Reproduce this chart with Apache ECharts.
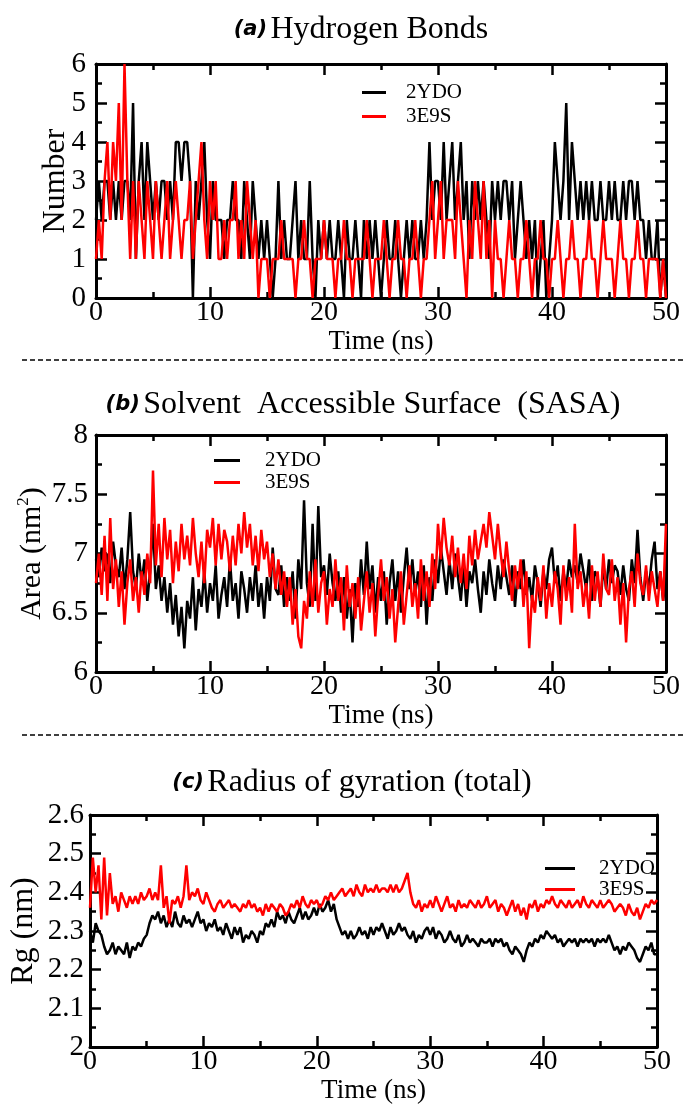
<!DOCTYPE html>
<html><head><meta charset="utf-8">
<script src="https://cdn.jsdelivr.net/npm/echarts@6/dist/echarts.min.js"></script>
<style>html,body{margin:0;padding:0;background:#fff}#c{width:683px;height:1105px}</style>
</head><body><div id="c"></div>
<script>
// ---- data (time step 0.25 ns, 0..50 ns) ----
const TIME_STEP = 0.25;
const seriesNames = ['2YDO', '3E9S'];
const panelTitles = ['Hydrogen Bonds', 'Solvent  Accessible Surface  (SASA)', 'Radius of gyration (total)'];
const panelTags = ['(a)', '(b)', '(c)'];

const hb2YDO = [
2,3,2,3, 3,2,3,2, 3,2,3,3, 2,5,1,3, 4,2,4,3,
2,3,2,3, 3,2,3,2, 4,4,3,4, 4,3,0,3, 2,3,4,2,
1,3,2,2, 2,1,2,2, 3,2,2,1, 3,2,1,3, 2,1,2,1,
2,1,0,1, 3,1,2,1, 1,2,3,1, 2,1,1,3, 1,0,2,1,
2,1,2,1, 1,2,1,0, 2,1,1,2, 1,0,2,1, 2,1,2,1,
0,1,2,1, 1,2,1,0, 1,2,1,2, 1,1,2,1, 2,4,2,3,
3,2,4,2, 3,4,2,3, 4,2,3,1, 3,2,3,2, 3,2,1,3,
2,3,2,3, 3,2,3,1, 2,3,2,1, 2,1,2,0, 1,2,0,1,
2,4,3,2, 3,5,2,4, 3,2,3,2, 3,2,3,2, 2,3,2,2,
3,2,3,2, 2,3,2,3, 3,2,3,2, 2,1,2,1, 1,2,0,1,
0];
const hb3E9S = [
1,2,1,3, 4,2,4,3, 5,2,6,3, 1,3,1,3, 2,1,3,2,
1,3,2,1, 2,3,1,2, 3,2,1,2, 2,3,1,2, 3,4,2,1,
3,2,3,1, 1,2,1,2, 2,3,1,2, 1,3,2,1, 2,0,1,1,
1,0,1,1, 1,2,1,1, 1,1,0,1, 1,2,1,1, 0,1,1,1,
2,1,1,1, 0,1,1,2, 1,1,0,1, 1,1,1,2, 1,0,1,1,
1,2,1,0, 1,1,2,1, 1,0,1,1, 2,1,0,1, 1,2,3,1,
2,3,1,2, 2,2,1,3, 2,1,0,2, 1,3,2,1, 3,1,2,0,
2,1,1,0, 1,2,1,1, 0,1,1,2, 1,0,1,1, 2,1,1,0,
1,1,2,1, 0,1,1,2, 1,1,0,1, 1,2,1,1, 0,1,2,1,
1,1,0,1, 2,1,1,0, 1,1,2,1, 1,0,1,1, 1,1,0,1,
0];

const sasa2YDO = [
6.95,6.80,7.05,6.85, 7.00,6.75,7.10,6.90, 6.80,7.05,6.70,6.95, 7.35,6.85,6.70,7.00, 6.75,6.95,6.60,6.85,
7.25,6.70,6.90,6.60, 6.80,6.50,6.75,6.40, 6.65,6.30,6.55,6.20, 6.60,6.45,6.80,6.35, 6.70,6.55,6.85,6.50,
6.75,6.60,6.90,6.45, 6.65,6.80,6.55,6.95, 6.60,6.75,6.45,6.85, 6.70,6.50,6.80,6.60, 6.90,6.55,6.75,6.45,
6.80,6.60,7.05,6.70, 6.65,6.90,6.55,6.80, 6.60,6.85,6.45,6.95, 6.70,7.45,6.75,6.55, 7.25,6.60,7.40,6.80,
6.90,6.65,7.00,6.75, 6.60,6.85,6.50,6.80, 6.45,6.70,6.25,6.75, 6.55,6.95,6.65,7.10, 6.70,6.90,6.50,6.80,
6.60,6.85,6.40,6.75, 6.95,6.60,6.85,6.50, 6.80,7.05,6.70,6.95, 6.65,6.85,6.55,6.90, 6.40,6.80,6.60,6.95,
6.75,7.05,6.85,6.65, 6.95,6.70,7.00,6.80, 6.60,6.90,6.55,6.85, 6.75,6.95,6.70,6.50, 6.85,6.65,6.95,6.75,
6.60,6.90,6.70,6.95, 6.80,6.65,6.90,6.55, 6.85,6.70,6.95,6.65, 6.80,6.60,6.90,6.75, 6.55,6.85,6.70,6.95,
7.05,6.75,6.90,6.60, 6.85,6.70,6.95,6.80, 6.90,6.75,7.00,6.85, 6.70,6.95,6.60,6.85, 6.80,6.55,6.90,6.70,
6.95,6.75,6.90,6.85, 6.65,6.90,6.70,6.60, 6.95,6.75,7.20,6.80, 6.60,6.85,6.70,6.95, 7.10,6.70,6.85,6.60,
6.80];
const sasa3E9S = [
6.75,7.00,6.65,7.15, 6.60,7.30,6.70,6.95, 6.55,6.85,6.40,6.75, 6.95,6.60,6.80,6.50, 6.85,6.65,7.00,6.75,
7.70,6.90,7.25,6.80, 7.30,6.95,7.20,6.75, 7.10,6.85,7.25,6.95, 7.15,6.90,7.30,7.00, 6.80,7.10,6.75,7.20,
7.05,7.30,6.90,7.25, 6.95,7.20,7.10,6.85, 7.15,6.90,7.25,7.00, 7.35,7.05,7.25,6.90, 7.15,6.85,7.20,6.95,
7.10,6.80,7.00,6.70, 6.95,6.65,6.85,6.55, 6.80,6.40,6.70,6.30, 6.20,6.60,6.45,6.85, 6.55,6.95,6.50,6.75,
6.85,6.40,6.70,6.55, 6.95,6.60,6.80,6.35, 6.90,6.55,6.75,6.45, 6.80,6.35,6.60,6.85, 6.50,6.75,6.30,6.65,
6.95,6.60,6.80,6.45, 6.70,6.25,6.55,6.85, 6.40,6.65,6.90,6.55, 6.75,6.45,6.95,6.60, 6.85,6.55,7.00,6.70,
7.25,6.95,7.30,7.05, 6.90,7.15,6.80,7.05, 6.75,7.00,6.70,7.15, 6.90,7.20,6.95,7.10, 7.25,7.05,7.35,7.15,
6.95,7.25,7.00,6.80, 7.10,6.85,6.60,6.90, 6.70,6.95,6.55,6.85, 6.20,6.65,6.50,6.80, 6.60,6.90,6.45,6.75,
6.55,6.85,6.70,6.40, 6.90,6.60,6.80,6.50, 7.25,6.70,6.85,6.55, 6.75,6.45,6.90,6.60, 6.85,6.55,7.00,6.70,
6.65,6.95,6.60,6.80, 6.40,6.75,6.25,6.70, 6.85,6.55,7.00,6.75, 6.65,6.90,6.60,6.85, 6.70,6.55,6.85,6.60,
7.25];

const rg2YDO = [
2.30,2.27,2.32,2.30, 2.29,2.26,2.24,2.25, 2.27,2.24,2.26,2.25, 2.24,2.27,2.23,2.26, 2.25,2.27,2.26,2.28,
2.29,2.32,2.34,2.33, 2.35,2.32,2.34,2.31, 2.33,2.31,2.35,2.32, 2.31,2.34,2.32,2.33, 2.31,2.33,2.35,2.32,
2.33,2.30,2.32,2.31, 2.33,2.30,2.31,2.29, 2.32,2.30,2.28,2.31, 2.29,2.31,2.27,2.29, 2.28,2.30,2.29,2.27,
2.30,2.29,2.32,2.31, 2.33,2.31,2.35,2.33, 2.34,2.32,2.35,2.33, 2.32,2.34,2.36,2.33, 2.35,2.33,2.34,2.36,
2.34,2.37,2.35,2.36, 2.38,2.35,2.37,2.33, 2.31,2.29,2.30,2.28, 2.30,2.28,2.29,2.31, 2.29,2.30,2.28,2.31,
2.29,2.31,2.30,2.32, 2.30,2.28,2.31,2.29, 2.30,2.32,2.30,2.31, 2.29,2.28,2.30,2.27, 2.29,2.28,2.30,2.31,
2.29,2.31,2.28,2.30, 2.29,2.27,2.28,2.30, 2.28,2.27,2.29,2.26, 2.27,2.29,2.27,2.28, 2.27,2.26,2.28,2.27,
2.27,2.28,2.26,2.28, 2.27,2.28,2.26,2.27, 2.25,2.24,2.26,2.25, 2.24,2.22,2.25,2.27, 2.26,2.28,2.27,2.29,
2.28,2.30,2.29,2.28, 2.29,2.27,2.28,2.26, 2.27,2.28,2.27,2.28, 2.26,2.28,2.27,2.28, 2.27,2.28,2.26,2.28,
2.27,2.28,2.27,2.29, 2.27,2.25,2.26,2.24, 2.26,2.25,2.27,2.26, 2.25,2.23,2.22,2.24, 2.26,2.25,2.27,2.24,
2.24];
const rg3E9S = [
2.36,2.49,2.40,2.47, 2.33,2.49,2.34,2.45, 2.37,2.39,2.35,2.40, 2.38,2.36,2.39,2.37, 2.39,2.37,2.40,2.38,
2.39,2.41,2.38,2.40, 2.38,2.47,2.36,2.39, 2.32,2.38,2.37,2.39, 2.36,2.39,2.47,2.38, 2.40,2.39,2.41,2.38,
2.37,2.40,2.38,2.36, 2.35,2.37,2.38,2.36, 2.37,2.38,2.36,2.37, 2.36,2.35,2.37,2.36, 2.38,2.36,2.37,2.35,
2.36,2.34,2.37,2.35, 2.37,2.36,2.35,2.37, 2.36,2.34,2.35,2.37, 2.36,2.38,2.36,2.39, 2.37,2.36,2.38,2.37,
2.38,2.36,2.37,2.39, 2.38,2.40,2.38,2.39, 2.40,2.41,2.39,2.40, 2.41,2.39,2.42,2.40, 2.39,2.42,2.40,2.41,
2.40,2.42,2.40,2.41, 2.41,2.40,2.42,2.40, 2.42,2.40,2.41,2.43, 2.45,2.40,2.37,2.36, 2.38,2.35,2.37,2.36,
2.38,2.36,2.39,2.37, 2.35,2.37,2.39,2.36, 2.37,2.35,2.38,2.36, 2.37,2.36,2.38,2.37, 2.36,2.38,2.36,2.37,
2.39,2.36,2.37,2.38, 2.35,2.37,2.36,2.34, 2.36,2.38,2.35,2.37, 2.34,2.36,2.33,2.37, 2.36,2.38,2.35,2.37,
2.36,2.38,2.37,2.39, 2.37,2.36,2.38,2.37, 2.36,2.38,2.36,2.37, 2.38,2.36,2.39,2.37, 2.36,2.38,2.37,2.36,
2.38,2.36,2.37,2.38, 2.37,2.35,2.36,2.37, 2.36,2.34,2.37,2.35, 2.34,2.36,2.33,2.35, 2.37,2.36,2.38,2.37,
2.38];

// ---- chart ----
const SERIF = 'Liberation Serif';
const toPairs = arr => arr.map((v, i) => [i * TIME_STEP, v]);

const grids = [
  {left: 96, top: 64, width: 572, height: 234},
  {left: 96, top: 435, width: 572, height: 237},
  {left: 86, top: 815, width: 571, height: 232}
];
const yCfg = [
  {min: 0, max: 6, interval: 1, name: 'Number', nameGap: 24, margin: 10, nameSize: 32},
  {min: 6, max: 8, interval: 0.5, name: 'Area (nm{s|2})', nameGap: 47, margin: 8, nameSize: 30},
  {min: 2, max: 2.6, interval: 0.1, name: 'Rg (nm)', nameGap: 50, margin: 6, nameSize: 32}
];
const lineAx = {show: true, onZero: false, lineStyle: {color: '#000', width: 3}};
const tickAx = {show: true, inside: true, length: 11, lineStyle: {color: '#000', width: 2.5}};
const minorAx = {show: true, splitNumber: 2, length: 6, lineStyle: {color: '#000', width: 2.5}};

const xAxis = [], yAxis = [], series = [];
grids.forEach((g, gi) => {
  const base = {type: 'value', gridIndex: gi, min: 0, max: 50, interval: 10,
    axisLine: lineAx, axisTick: tickAx, minorTick: minorAx, splitLine: {show: false}};
  xAxis.push(Object.assign({}, base, {position: 'bottom', name: 'Time (ns)', nameLocation: 'middle', nameGap: 30,
    nameMoveOverlap: false,
    nameTextStyle: {fontFamily: SERIF, fontSize: 27, color: '#000'},
    axisLabel: {fontFamily: SERIF, fontSize: 28, color: '#000', margin: 1}}));
  xAxis.push(Object.assign({}, base, {position: 'top', axisLabel: {show: false}}));
  const yc = yCfg[gi];
  const ybase = {type: 'value', gridIndex: gi, min: yc.min, max: yc.max, interval: yc.interval,
    axisLine: lineAx, axisTick: tickAx, minorTick: minorAx, splitLine: {show: false}};
  yAxis.push(Object.assign({}, ybase, {position: 'left', name: yc.name, nameLocation: 'middle', nameGap: yc.nameGap,
    nameMoveOverlap: false,
    nameTextStyle: {fontFamily: SERIF, fontSize: yc.nameSize, color: '#000',
      rich: {s: {fontFamily: SERIF, fontSize: 17, color: '#000', verticalAlign: 'top', lineHeight: 34}}},
    axisLabel: {fontFamily: SERIF, fontSize: 29, color: '#000', margin: yc.margin}}));
  yAxis.push(Object.assign({}, ybase, {position: 'right', axisLabel: {show: false}}));
});

const panelData = [[hb2YDO, hb3E9S], [sasa2YDO, sasa3E9S], [rg2YDO, rg3E9S]];
const colors = ['#000000', '#ff0000'];
panelData.forEach((pair, gi) => {
  pair.forEach((arr, si) => {
    series.push({type: 'line', name: seriesNames[si], xAxisIndex: gi * 2, yAxisIndex: gi * 2,
      data: toPairs(arr), symbol: 'none', showSymbol: false,
      lineStyle: {color: colors[si], width: 2.5}, itemStyle: {color: colors[si]}, z: 2 + si});
  });
});

const legendPos = [
  {left: 362, top: 82, itemWidth: 24, itemGap: 3, pad: 15},
  {left: 214, top: 450, itemWidth: 26, itemGap: 1, pad: 20},
  {left: 545, top: 858, itemWidth: 30, itemGap: 0, pad: 19}
];
const legend = legendPos.map(p => ({
  left: p.left, top: p.top, orient: 'vertical', icon: 'rect', itemWidth: p.itemWidth, itemHeight: 3,
  itemGap: p.itemGap, selectedMode: false, padding: 0, data: seriesNames,
  textStyle: {fontFamily: SERIF, fontSize: 21, lineHeight: 21, color: '#000', padding: [0, 0, 0, p.pad]}
}));

const titlePos = [{x: 361, y: 30}, {x: 363, y: 405}, {x: 352, y: 783}];
const graphic = titlePos.map((p, i) => ({
  type: 'text', x: p.x, y: p.y,
  style: {text: '{b|' + panelTags[i] + '} {t|' + panelTitles[i] + '}', align: 'center', verticalAlign: 'middle',
    rich: {b: {fontFamily: 'DejaVu Sans', fontStyle: 'italic', fontWeight: 'bold', fontSize: 21, fill: '#000'},
           t: {fontFamily: SERIF, fontSize: 32, fill: '#000'}}}
}));
[360, 735].forEach(y => graphic.push({type: 'line', shape: {x1: 22, y1: y, x2: 683, y2: y},
  style: {stroke: '#000', lineWidth: 1.5, lineDash: [5, 3]}}));

const chart = echarts.init(document.getElementById('c'), null, {renderer: 'canvas'});
chart.setOption({animation: false, backgroundColor: '#fff', grid: grids, xAxis, yAxis, series, legend, graphic});
</script></body></html>
